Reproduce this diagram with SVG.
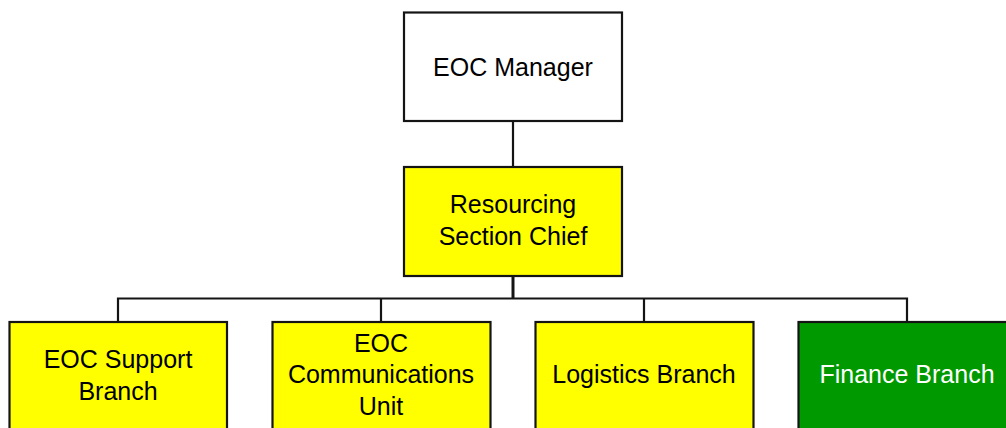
<svg xmlns="http://www.w3.org/2000/svg" width="1006" height="428" viewBox="0 0 1006 428">
  <style>
    .box { stroke: #141414; stroke-width: 2.2; }
    .white { fill: #ffffff; }
    .yellow { fill: #ffff00; }
    .green { fill: #009900; }
    .lbl { font-family: "Liberation Sans", Arial, sans-serif; font-size: 25px; text-anchor: middle; fill: #000000; }
    .lbl-w { fill: #ffffff; }
    .conn { stroke: #141414; stroke-width: 2.2; fill: none; }
  </style>
  <rect width="1006" height="428" fill="#ffffff"/>
  <g id="connectors">
    <line class="conn" x1="513" y1="121" x2="513" y2="167"/>
    <line class="conn" x1="513" y1="276" x2="513" y2="298" style="stroke-width:3"/>
    <polyline class="conn" points="118,322 118,298.5 907,298.5 907,322"/>
    <line class="conn" x1="381" y1="298.5" x2="381" y2="322"/>
    <line class="conn" x1="644" y1="298.5" x2="644" y2="322"/>
  </g>
  <g id="eoc-manager">
    <rect class="box white" x="404" y="12.5" width="218" height="108.5"/>
    <text class="lbl" x="513" y="75.5">EOC Manager</text>
  </g>
  <g id="resourcing-section-chief">
    <rect class="box yellow" x="404" y="167" width="218" height="109"/>
    <text class="lbl" x="513" y="213">Resourcing</text>
    <text class="lbl" x="513" y="245">Section Chief</text>
  </g>
  <g id="eoc-support-branch">
    <rect class="box yellow" x="9.5" y="322" width="217.5" height="112"/>
    <text class="lbl" x="118" y="368">EOC Support</text>
    <text class="lbl" x="118" y="399.5">Branch</text>
  </g>
  <g id="eoc-communications-unit">
    <rect class="box yellow" x="272.5" y="322" width="218" height="112"/>
    <text class="lbl" x="381" y="351.5">EOC</text>
    <text class="lbl" x="381" y="383">Communications</text>
    <text class="lbl" x="381" y="415">Unit</text>
  </g>
  <g id="logistics-branch">
    <rect class="box yellow" x="535.5" y="322" width="218" height="112"/>
    <text class="lbl" x="644" y="382.5">Logistics Branch</text>
  </g>
  <g id="finance-branch">
    <rect class="box green" x="798.5" y="322" width="218" height="112"/>
    <text class="lbl lbl-w" x="907" y="382.5">Finance Branch</text>
  </g>
</svg>
